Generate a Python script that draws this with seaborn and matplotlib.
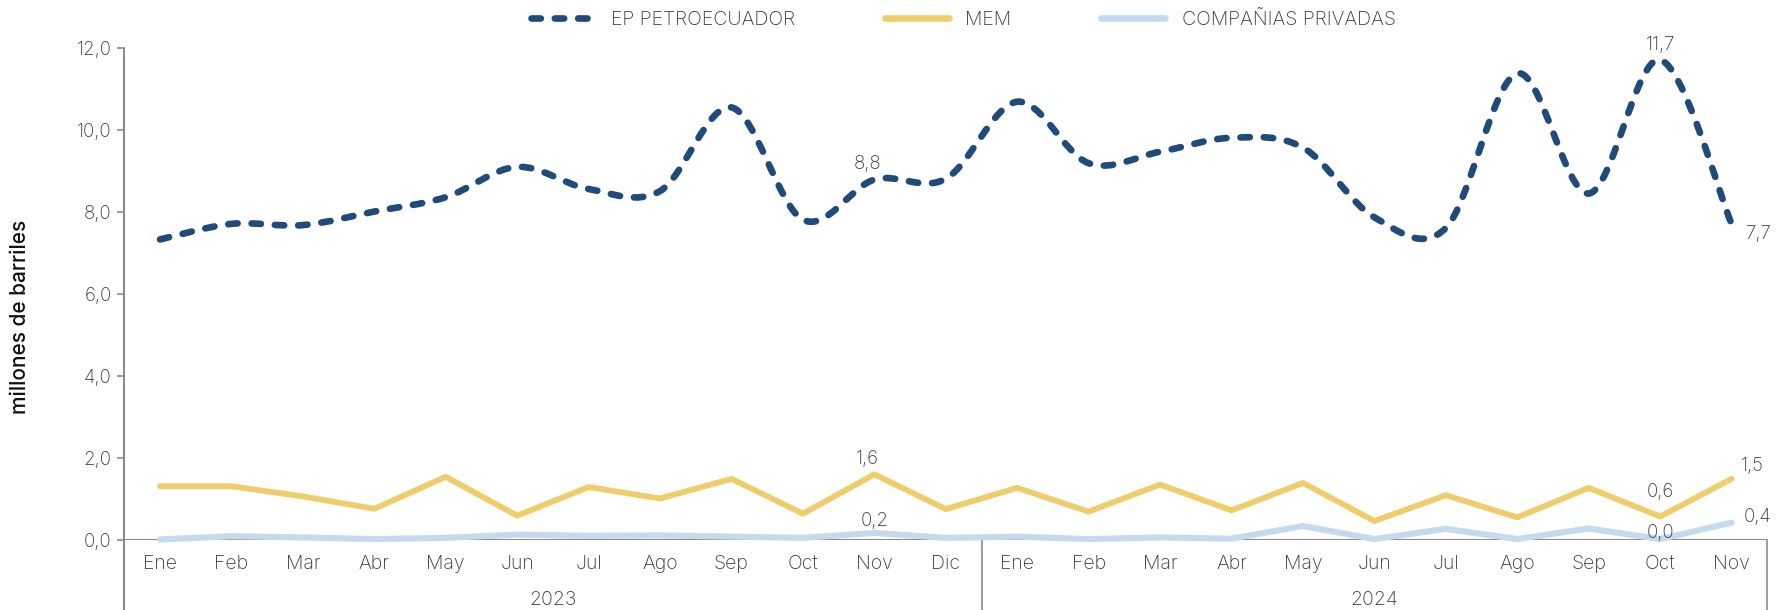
import numpy as np
import matplotlib
matplotlib.use('Agg')
import matplotlib.pyplot as plt
import matplotlib.transforms as mtransforms
from matplotlib.path import Path
from matplotlib.patches import PathPatch
from matplotlib.lines import Line2D
import seaborn as sns

# Monthly production, millions of barrels (Ene 2023 - Nov 2024)
months = ['Ene', 'Feb', 'Mar', 'Abr', 'May', 'Jun', 'Jul', 'Ago', 'Sep', 'Oct', 'Nov', 'Dic',
          'Ene', 'Feb', 'Mar', 'Abr', 'May', 'Jun', 'Jul', 'Ago', 'Sep', 'Oct', 'Nov']
years = ['2023', '2024']
months_per_year = [12, 11]

ep_petroecuador = [7.32, 7.70, 7.67, 8.00, 8.35, 9.09, 8.55, 8.50, 10.54, 7.80, 8.78, 8.80,
                   10.68, 9.18, 9.46, 9.80, 9.56, 7.86, 7.60, 11.37, 8.44, 11.70, 7.70]
mem = [1.30, 1.30, 1.05, 0.75, 1.53, 0.58, 1.28, 1.00, 1.48, 0.63, 1.59, 0.74,
       1.26, 0.68, 1.34, 0.71, 1.38, 0.45, 1.08, 0.54, 1.26, 0.56, 1.48]
companias = [0.00, 0.08, 0.05, 0.01, 0.04, 0.12, 0.09, 0.10, 0.07, 0.04, 0.16, 0.04,
             0.07, 0.01, 0.05, 0.02, 0.33, 0.01, 0.26, 0.01, 0.27, 0.01, 0.41]

series_names = ['EP PETROECUADOR', 'MEM', 'COMPAÑIAS PRIVADAS']
series_colors = ['#1F4A7A', '#F0CD6A', '#C5D9EF']

TEXT = '#3A3A3A'
GREY = '#8C8C8C'
FS = 14


def smooth_path(x, y):
    """Bezier path through the points, like a smoothed spreadsheet line."""
    x = np.asarray(x, float)
    y = np.asarray(y, float)
    n = len(x)
    verts = [(x[0], y[0])]
    codes = [Path.MOVETO]
    for i in range(n - 1):
        a = i - 1 if i > 0 else i
        d = i + 2 if i + 2 < n else i + 1
        c1 = (x[i] + (x[i + 1] - x[a]) / 6, y[i] + (y[i + 1] - y[a]) / 6)
        c2 = (x[i + 1] - (x[d] - x[i]) / 6, y[i + 1] - (y[d] - y[i]) / 6)
        verts += [c1, c2, (x[i + 1], y[i + 1])]
        codes += [Path.CURVE4] * 3
    return Path(verts, codes)


def fmt(v):
    return f'{v:.1f}'.replace('.', ',')


sns.set_style('white')
plt.rcParams['font.family'] = ['Inter', 'DejaVu Sans']

fig = plt.figure(figsize=(17.77, 6.10), dpi=100)
ax = fig.add_axes([124.3 / 1777, 70.5 / 610, 1643 / 1777, 491.9 / 610])

pos = np.arange(len(months))

# EP Petroecuador: smoothed dashed line
ep_patch = PathPatch(smooth_path(pos, ep_petroecuador), facecolor='none',
                     edgecolor=series_colors[0], linewidth=4.8,
                     linestyle=(0, (1.4, 2.1)), capstyle='round',
                     joinstyle='round', zorder=4)
ax.add_patch(ep_patch)

sns.lineplot(x=pos, y=mem, ax=ax, color=series_colors[1], linewidth=4.2,
             sort=False, clip_on=False, zorder=3)
sns.lineplot(x=pos, y=companias, ax=ax, color=series_colors[2], linewidth=4.4,
             sort=False, clip_on=False, zorder=3)

ax.set_xlim(-0.5, len(months) - 0.5)
ax.set_ylim(0, 12)

# axes
for side in ['top', 'right', 'bottom', 'left']:
    ax.spines[side].set_visible(False)
ax.axhline(0, color=GREY, linewidth=1.5, zorder=2)
ax.axvline(-0.5, ymin=-0.2, ymax=1, color=GREY, linewidth=1.5, clip_on=False)
edge = 0
for n in months_per_year:
    edge += n
    ax.axvline(edge - 0.5, ymin=-0.2, ymax=0, color=GREY, linewidth=1.2, clip_on=False)

ax.set_yticks(np.arange(0, 13, 2))
ax.set_yticklabels([fmt(v) for v in np.arange(0, 13, 2)])
ax.tick_params(axis='y', direction='out', length=5, width=1.2, color=GREY,
               labelsize=FS - 0.5, labelcolor=TEXT, pad=4, left=True)
ax.set_xticks(pos)
ax.set_xticklabels(months)
ax.tick_params(axis='x', length=0, labelsize=FS, labelcolor=TEXT, pad=11)
for lab in ax.get_xticklabels() + ax.get_yticklabels():
    lab.set_fontweight('light')

# year labels below the months
trans = mtransforms.blended_transform_factory(ax.transData, ax.transAxes)
start = 0
for yr, n in zip(years, months_per_year):
    ax.text(start + (n - 1) / 2, -0.123, yr, transform=trans, ha='center', va='center',
            fontsize=FS, color=TEXT, fontweight='light', clip_on=False)
    start += n

fig.text(20 / 1777, 1 - 317 / 610, 'millones de barriles', rotation=90, ha='center',
         va='center', fontsize=15, color='#111111', fontweight='medium')

# data labels
labels = [
    (ep_petroecuador, 10, (-5, 11.5)),
    (ep_petroecuador, 21, (0, 10.6)),
    (ep_petroecuador, 22, (19.6, -7)),
    (mem, 10, (-5, 11)),
    (mem, 21, (0, 17.7)),
    (mem, 22, (14.7, 9.4)),
    (companias, 10, (0, 8.3)),
    (companias, 21, (0, 4.6)),
    (companias, 22, (18.8, 4.2)),
]
for values, i, off in labels:
    ax.annotate(fmt(values[i]), (pos[i], values[i]), xytext=off, textcoords='offset points',
                ha='center', va='center', fontsize=FS - 0.5, color=TEXT, fontweight='light',
                annotation_clip=False, zorder=6)

handles = [
    Line2D([], [], color=series_colors[0], linewidth=4.8, linestyle=(0, (1.4, 2.1)),
           dash_capstyle='round'),
    Line2D([], [], color=series_colors[1], linewidth=4.8, solid_capstyle='round'),
    Line2D([], [], color=series_colors[2], linewidth=4.8, solid_capstyle='round'),
]
leg = fig.legend(handles, series_names, loc='center', bbox_to_anchor=(0.542, 0.968),
                 ncol=3, frameon=False, fontsize=FS, handlelength=3.3,
                 handletextpad=0.85, columnspacing=4.6)
for t in leg.get_texts():
    t.set_color(TEXT)
    t.set_fontweight('light')

fig.savefig('out.png', dpi=100)
